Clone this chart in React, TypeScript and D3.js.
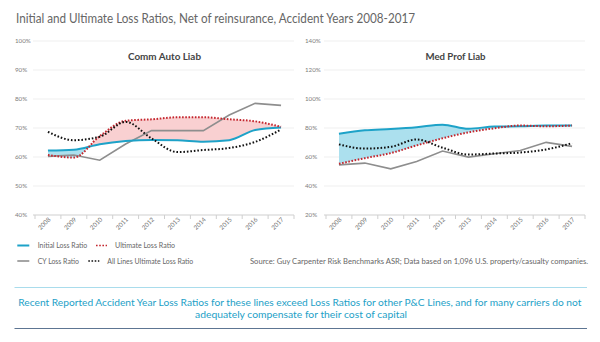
import React from "react";
import * as d3 from "d3";

const years = ["2008", "2009", "2010", "2011", "2012", "2013", "2014", "2015", "2016", "2017"];

const autoInitial = [62.2, 62.5, 64.4, 65.5, 65.9, 65.8, 65.3, 65.8, 69.3, 70.2];
const autoUltimate = [60.7, 59.8, 67.2, 72.5, 73.0, 73.7, 73.7, 73.0, 72.3, 70.4];
const autoCY = [60.2, 60.7, 58.9, 64.5, 69.1, 69.1, 69.1, 74.5, 78.5, 77.8];

const medInitial = [76.1, 78.4, 79.3, 80.5, 82.3, 79.5, 81.0, 81.2, 81.7, 81.7];
const medUltimate = [55.3, 59.2, 62.7, 68.0, 72.9, 77.0, 79.8, 81.7, 81.2, 81.7];
const medCY = [54.6, 55.8, 51.8, 56.9, 64.1, 59.9, 62.2, 64.5, 70.1, 67.3];

const allLinesUltimate = [68.7, 65.8, 67.0, 72.1, 66.4, 61.7, 62.4, 63.1, 65.2, 69.5];

const autoTicks = [40, 50, 60, 70, 80, 90, 100];
const medTicks = [20, 40, 60, 80, 100, 120, 140];

const legendItems = [
  { label: "Initial Loss Ratio", kind: "initial" },
  { label: "Ultimate Loss Ratio", kind: "ultimate" },
  { label: "CY Loss Ratio", kind: "cy" },
  { label: "All Lines Ultimate Loss Ratio", kind: "all" },
];

const FONT = "Lato, 'Open Sans', sans-serif";
const BLUE = "#1da2c8";
const RED = "#c4262e";
const GREY = "#8e8e8e";
const BLACK = "#111";
const PINK = "#f9d0d1";
const LBLUE = "#ace0ee";

type PanelProps = {
  id: string;
  title: string;
  titleLen: number;
  x0: number;
  x1: number;
  yDomain: [number, number];
  ticks: number[];
  initial: number[];
  ultimate: number[];
  cy: number[];
  all: number[];
  labelX: number;
};

function Panel(p: PanelProps) {
  const x = d3.scaleBand<string>().domain(years).range([p.x0, p.x1]).padding(0);
  const y = d3.scaleLinear().domain(p.yDomain).range([215, 41]);
  const cx = (i: number) => (x(years[i]) as number) + x.bandwidth() / 2;
  const idx = years.map((_, i) => i);

  const smooth = (vals: number[]) =>
    d3.line<number>().x((i) => cx(i)).y((i) => y(vals[i])).curve(d3.curveMonotoneX)(idx) as string;
  const straight = (vals: number[]) =>
    d3.line<number>().x((i) => cx(i)).y((i) => y(vals[i]))(idx) as string;

  const band = d3
    .area<number>()
    .x((i) => cx(i))
    .y0((i) => y(p.initial[i]))
    .y1((i) => y(p.ultimate[i]))
    .curve(d3.curveMonotoneX)(idx) as string;
  const aboveInitial = d3
    .area<number>()
    .x((i) => cx(i))
    .y0(0)
    .y1((i) => y(p.initial[i]))
    .curve(d3.curveMonotoneX)(idx) as string;
  const belowInitial = d3
    .area<number>()
    .x((i) => cx(i))
    .y0(342)
    .y1((i) => y(p.initial[i]))
    .curve(d3.curveMonotoneX)(idx) as string;

  const bounds = [...years.map((yr) => x(yr) as number), p.x1];
  const gx0 = p.x0 - 2;

  return (
    <g>
      <defs>
        <clipPath id={`${p.id}-above`}>
          <path d={aboveInitial} />
        </clipPath>
        <clipPath id={`${p.id}-below`}>
          <path d={belowInitial} />
        </clipPath>
      </defs>
      {p.ticks.map((t) => (
        <g key={t}>
          {t !== p.yDomain[0] && (
            <line x1={gx0} x2={p.x1} y1={y(t)} y2={y(t)} stroke="#efefef" strokeWidth={1} />
          )}
          <text x={p.labelX} y={y(t) + 2} fontSize={6.2} fill="#7d7d7d" fontFamily={FONT}>
            {t}%
          </text>
        </g>
      ))}
      <line x1={gx0} x2={p.x1} y1={215} y2={215} stroke="#cfcfcf" strokeWidth={1} />
      {bounds.map((b, i) => (
        <line key={i} x1={b} x2={b} y1={215} y2={219} stroke="#cfcfcf" strokeWidth={1} />
      ))}
      {years.map((yr, i) => (
        <text
          key={yr}
          transform={`translate(${cx(i) + 3},${220}) rotate(-45)`}
          textAnchor="end"
          fontSize={6.2}
          fill="#6f6f6f"
          fontFamily={FONT}
        >
          {yr}
        </text>
      ))}
      <text
        x={(p.x0 + p.x1) / 2}
        y={60}
        textAnchor="middle"
        fontSize={9.6}
        fontWeight="bold"
        fill="#444"
        fontFamily={FONT}
        textLength={p.titleLen}
        lengthAdjust="spacingAndGlyphs"
      >
        {p.title}
      </text>
      <path d={band} fill={PINK} clipPath={`url(#${p.id}-above)`} />
      <path d={band} fill={LBLUE} clipPath={`url(#${p.id}-below)`} />
      <path d={straight(p.cy)} fill="none" stroke={GREY} strokeWidth={1.6} />
      <path d={smooth(p.initial)} fill="none" stroke={BLUE} strokeWidth={2} />
      <path
        d={smooth(p.ultimate)}
        fill="none"
        stroke={RED}
        strokeWidth={2}
        strokeDasharray="1.6,1.6"
      />
      <path
        d={smooth(p.all)}
        fill="none"
        stroke={BLACK}
        strokeWidth={2}
        strokeDasharray="1.6,1.9"
      />
    </g>
  );
}

function LegendSwatch({ kind, x, y }: { kind: string; x: number; y: number }) {
  if (kind === "initial")
    return <line x1={x} x2={x + 12} y1={y} y2={y} stroke={BLUE} strokeWidth={2} />;
  if (kind === "cy")
    return <line x1={x} x2={x + 12} y1={y} y2={y} stroke={GREY} strokeWidth={1.6} />;
  if (kind === "ultimate")
    return (
      <line x1={x} x2={x + 11} y1={y} y2={y} stroke={RED} strokeWidth={1.6} strokeDasharray="1.6,1.6" />
    );
  return (
    <line x1={x} x2={x + 11} y1={y} y2={y} stroke={BLACK} strokeWidth={1.6} strokeDasharray="1.6,1.6" />
  );
}

export default function App() {
  const legendPos = [
    { sx: 17.3, tx: 37.7, y: 245.5, len: 49.6 },
    { sx: 96, tx: 115, y: 245.5, len: 60 },
    { sx: 17.3, tx: 37.7, y: 261, len: 41.3 },
    { sx: 88.3, tx: 107.3, y: 261, len: 86 },
  ];
  return (
    <svg
      width={600}
      height={342}
      style={{ position: "absolute", left: 0, top: 0, background: "#fff" }}
    >
      <rect x={0} y={0} width={600} height={342} fill="#fff" />
      <text
        x={16}
        y={22.5}
        fontSize={12.6}
        fill="#666"
        fontFamily={FONT}
        textLength={399}
        lengthAdjust="spacingAndGlyphs"
      >
        Initial and Ultimate Loss Ratios, Net of reinsurance, Accident Years 2008-2017
      </text>
      <Panel
        id="auto"
        title="Comm Auto Liab"
        titleLen={73}
        x0={35}
        x1={294}
        yDomain={[40, 100]}
        ticks={autoTicks}
        initial={autoInitial}
        ultimate={autoUltimate}
        cy={autoCY}
        all={allLinesUltimate}
        labelX={15}
      />
      <Panel
        id="med"
        title="Med Prof Liab"
        titleLen={60}
        x0={326}
        x1={585}
        yDomain={[20, 140]}
        ticks={medTicks}
        initial={medInitial}
        ultimate={medUltimate}
        cy={medCY}
        all={allLinesUltimate}
        labelX={305}
      />
      {legendItems.map((it, i) => (
        <g key={it.label}>
          <LegendSwatch kind={it.kind} x={legendPos[i].sx} y={legendPos[i].y} />
          <text
            x={legendPos[i].tx}
            y={legendPos[i].y + 2.6}
            fontSize={7.4}
            fill="#666"
            fontFamily={FONT}
            textLength={legendPos[i].len}
            lengthAdjust="spacingAndGlyphs"
          >
            {it.label}
          </text>
        </g>
      ))}
      <text
        x={250}
        y={263.5}
        fontSize={7.2}
        fill="#666"
        fontFamily={FONT}
        textLength={338}
        lengthAdjust="spacingAndGlyphs"
      >
        Source: Guy Carpenter Risk Benchmarks ASR; Data based on 1,096 U.S. property/casualty companies.
      </text>
      <line x1={14.5} x2={587} y1={287.5} y2={287.5} stroke="#a9dcec" strokeWidth={1} />
      <text
        x={18.3}
        y={305.5}
        fontSize={9.4}
        fill="#1d9fc7"
        fontFamily={FONT}
        textLength={563}
        lengthAdjust="spacingAndGlyphs"
      >
        Recent Reported Accident Year Loss Ratios for these lines exceed Loss Ratios for other P&amp;C Lines, and for many carriers do not
      </text>
      <text
        x={195}
        y={317.5}
        fontSize={9.4}
        fill="#1d9fc7"
        fontFamily={FONT}
        textLength={212}
        lengthAdjust="spacingAndGlyphs"
      >
        adequately compensate for their cost of capital
      </text>
      <line x1={14.5} x2={587} y1={328.5} y2={328.5} stroke="#5d7592" strokeWidth={1.2} />
    </svg>
  );
}
